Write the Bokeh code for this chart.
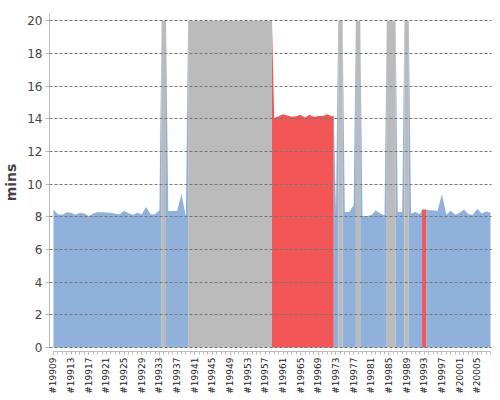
import math
from bokeh.plotting import figure
from bokeh.models import FixedTicker, Range1d
from bokeh.embed import file_html
from bokeh.resources import INLINE

# ---- data ----
categories = [f"#{n}" for n in range(19909, 20009)]

values = [
    8.45, 8.16, 8.12, 8.28, 8.25, 8.12, 8.25, 8.20, 8.05, 8.20,
    8.30, 8.28, 8.27, 8.25, 8.18, 8.16, 8.37, 8.22, 8.12, 8.25,
    8.16, 8.60, 8.16, 8.16, 8.40, 20.0, 8.35, 8.35, 8.35, 9.40,
    8.00, 20.0, 20.0, 20.0, 20.0, 20.0, 20.0, 20.0, 20.0, 20.0,
    20.0, 20.0, 20.0, 20.0, 20.0, 20.0, 20.0, 20.0, 20.0, 20.0,
    14.05, 14.15, 14.28, 14.20, 14.12, 14.15, 14.25, 14.08, 14.25, 14.12,
    14.18, 14.18, 14.28, 14.15, 8.30, 20.0, 8.29, 8.29, 8.70, 20.0,
    8.05, 8.05, 8.10, 8.40, 8.20, 8.10, 20.0, 20.0, 8.30, 8.30,
    20.0, 8.20, 8.30, 8.15, 8.45, 8.40, 8.40, 8.35, 9.40, 8.12,
    8.37, 8.12, 8.25, 8.45, 8.16, 8.12, 8.50, 8.20, 8.33, 8.25,
]

# n = normal (blue), g = capped (grey), r = flagged (red)
groups = (
    ["n"] * 25 + ["g"] + ["n"] * 5 + ["g"] * 19 + ["r"] * 14 + ["n"] + ["g"]
    + ["n"] * 3 + ["g"] + ["n"] * 6 + ["g"] * 2 + ["n"] * 2 + ["g"]
    + ["n"] * 3 + ["r"] + ["n"] * 15
)

group_colors = {"n": "#8fb1db", "g": "#bbbbbb", "r": "#f35656"}

y_ticks = [0, 2, 4, 6, 8, 10, 12, 14, 16, 18, 20]
label_step = 4

N = len(values)

p = figure(width=500, height=400, output_backend="svg", toolbar_location=None,
           x_range=Range1d(-0.9, 99.23), y_range=Range1d(-0.25, 20.45),
           min_border_left=47, min_border_right=9, min_border_top=13,
           min_border_bottom=49)
p.outline_line_color = None
p.background_fill_color = "white"
p.border_fill_color = "white"

# build runs of identical group and draw each as an area
start = 0
for i in range(1, N + 1):
    if i == N or groups[i] != groups[start]:
        a, b = start, i - 1
        xs, ys = [], []
        if a > 0:
            xs.append(a - 0.5)
            ys.append(max(values[a - 1], values[a]))
        for k in range(a, b + 1):
            xs.append(k)
            ys.append(values[k])
        if b < N - 1:
            xs.append(b + 0.5)
            ys.append(max(values[b], values[b + 1]))
        p.varea(x=xs, y1=[0] * len(xs), y2=ys, fill_color=group_colors[groups[a]])
        start = i

# x axis
major = list(range(0, N, label_step))
p.xaxis.ticker = FixedTicker(ticks=major, minor_ticks=list(range(N)))
p.xaxis.major_label_overrides = {i: categories[i] for i in major}
p.xaxis.major_label_orientation = math.pi / 2
p.xaxis.bounds = (0, N - 1)
p.xaxis.axis_line_color = "#bbbbbb"
p.xaxis.major_tick_line_color = "#bbbbbb"
p.xaxis.minor_tick_line_color = "#bbbbbb"
p.xaxis.major_tick_in = 0
p.xaxis.major_tick_out = 3
p.xaxis.minor_tick_in = 0
p.xaxis.minor_tick_out = 3
p.xaxis.major_label_standoff = 3
p.xaxis.major_label_text_font = "DejaVu Sans"
p.xaxis.major_label_text_font_size = "9px"
p.xaxis.major_label_text_color = "#222222"

# y axis
p.yaxis.ticker = FixedTicker(ticks=y_ticks, minor_ticks=[])
p.yaxis.bounds = (0, 20.45)
p.yaxis.axis_line_color = "#bbbbbb"
p.yaxis.major_tick_line_color = "#bbbbbb"
p.yaxis.major_tick_in = 0
p.yaxis.major_tick_out = 4
p.yaxis.major_label_standoff = 3
p.yaxis.major_label_text_font = "DejaVu Sans"
p.yaxis.major_label_text_font_size = "12px"
p.yaxis.major_label_text_color = "#444444"
p.yaxis.axis_label = "mins"
p.yaxis.axis_label_text_font = "DejaVu Sans"
p.yaxis.axis_label_text_font_style = "bold"
p.yaxis.axis_label_text_font_size = "14px"
p.yaxis.axis_label_text_color = "#444444"
p.yaxis.axis_label_standoff = 5

# grid
p.xgrid.grid_line_color = None
p.ygrid.grid_line_color = "#777777"
p.ygrid.grid_line_dash = "3 2"
p.ygrid.grid_line_width = 1
p.ygrid.level = "overlay"

open("out.html", "w").write(file_html(p, INLINE))
